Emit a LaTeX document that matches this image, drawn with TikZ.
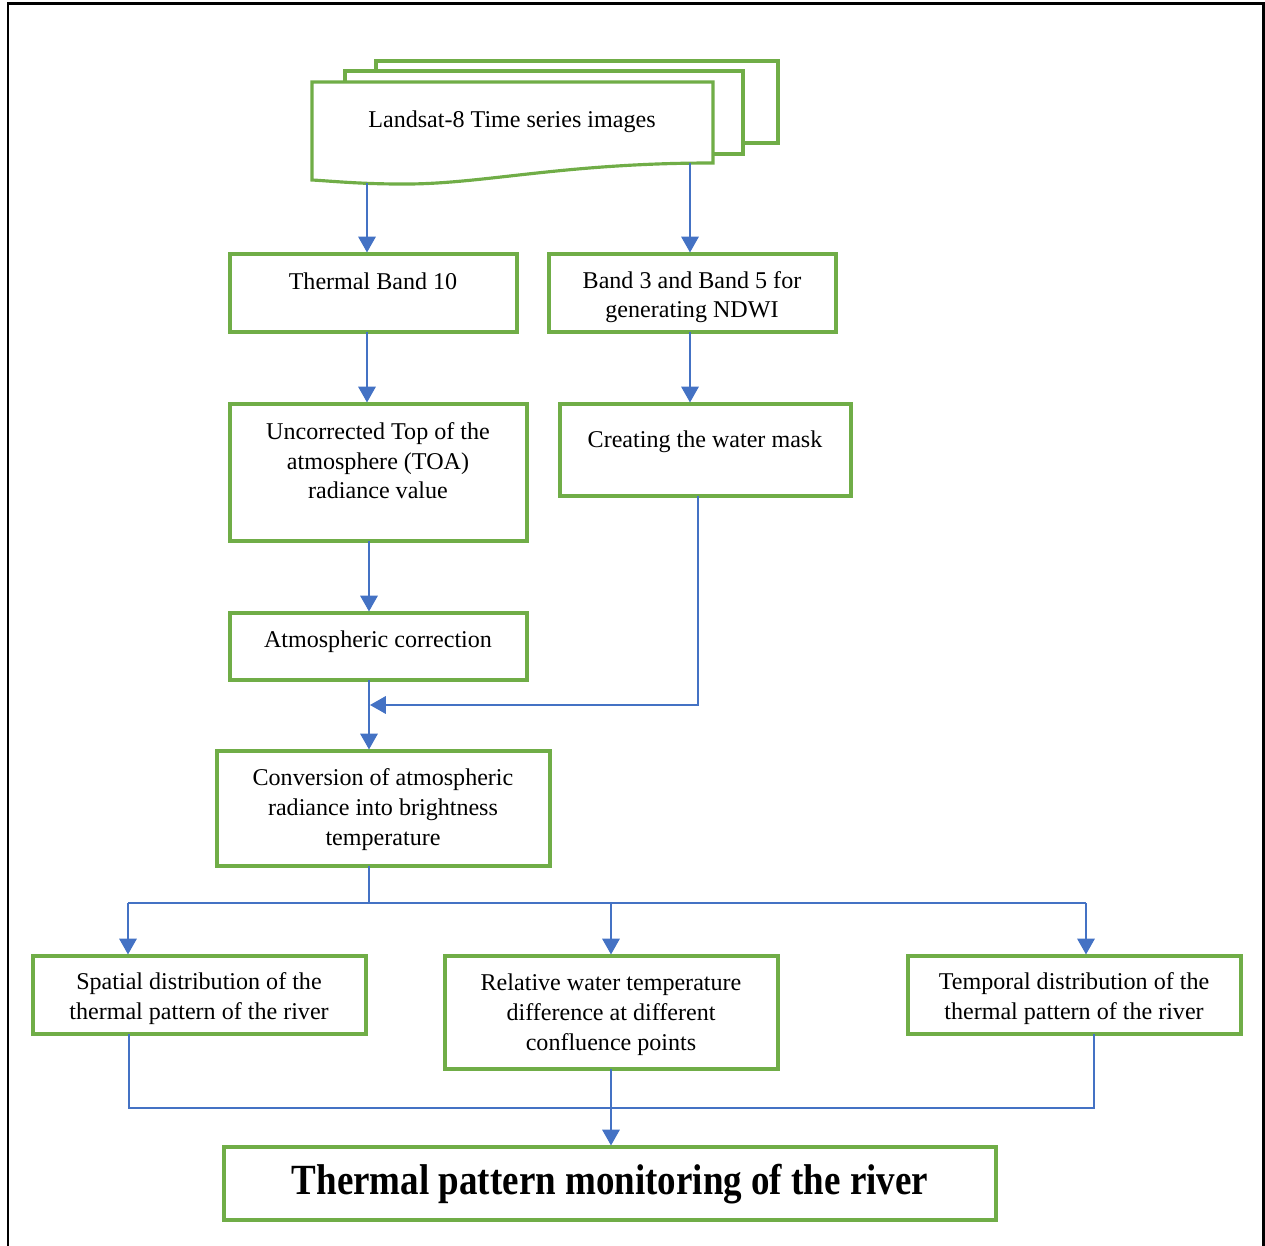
\documentclass[tikz,border=0pt]{standalone}
\usepackage{fontspec}
\setmainfont{Liberation Serif}
\usepackage{graphicx}
\usetikzlibrary{arrows.meta}
\definecolor{gboard}{HTML}{70AD47}
\definecolor{bline}{HTML}{4472C4}
\tikzset{
  box/.style={draw=gboard, line width=1.8pt, fill=white, inner sep=0pt},
  txt/.style={align=center, anchor=base, inner sep=0pt, font=\fontsize{13.7}{16.8}\selectfont},
  conn/.style={draw=bline, line width=0.85pt},
  arr/.style={conn, -{Triangle[length=9pt,width=10pt]}},
}
\begin{document}
\begin{tikzpicture}[x=0.02cm,y=-0.02cm]
\useasboundingbox (0,0) rectangle (1265,1246);
% outer frame
\draw[line width=1.7pt] (8,1246) -- (8,4) -- (1263,4) -- (1263,1246);
% multi-document shape
\draw[box] (376,61) rectangle (778,143);
\draw[box] (345,71) rectangle (743,154);
\draw[box] (312,82) -- (713,82) -- (713,163) .. controls (560,163) and (480,185) .. (400,184)
  .. controls (360,184) and (330,181) .. (312,180) -- cycle;
\node[txt] (landsat) at (512,128) {Landsat-8 Time series images};
\coordinate (d1) at (367,183);
\coordinate (d2) at (690,163);
% boxes
\node[box, minimum width=5.74cm, minimum height=1.56cm] (thermal) at (373.5,293) {};
\node[box, minimum width=5.74cm, minimum height=1.56cm] (band) at (692.5,293) {};
\node[box, minimum width=5.94cm, minimum height=2.74cm] (uncorr) at (378.5,472.5) {};
\node[box, minimum width=5.82cm, minimum height=1.84cm] (water) at (705.5,450) {};
\node[box, minimum width=5.94cm, minimum height=1.34cm] (atm) at (378.5,646.5) {};
\node[box, minimum width=6.66cm, minimum height=2.30cm] (conv) at (383.5,808.5) {};
\node[box, minimum width=6.66cm, minimum height=1.56cm] (spatial) at (199.5,995) {};
\node[box, minimum width=6.66cm, minimum height=2.26cm] (relative) at (611.5,1012.5) {};
\node[box, minimum width=6.66cm, minimum height=1.56cm] (temporal) at (1074.5,995) {};
\node[box, minimum width=15.44cm, minimum height=1.46cm] (final) at (610,1183.5) {};
% texts (anchor = baseline of last line)
\node[txt] (t1) at (373,290) {Thermal Band 10};
\node[txt] (t2) at (692,318) {Band 3 and Band 5 for\\generating NDWI};
\node[txt] (t3) at (378,499) {Uncorrected Top of the\\atmosphere (TOA)\\radiance value};
\node[txt] (t4) at (705,448) {Creating the water mask};
\node[txt] (t5) at (378,648) {Atmospheric correction};
\node[txt] (t6) at (383,845) {Conversion of atmospheric\\radiance into brightness\\temperature};
\node[txt] (t7) at (199,1019) {Spatial distribution of the\\thermal pattern of the river};
\node[txt] (t8) at (611,1050) {Relative water temperature\\difference at different\\confluence points};
\node[txt] (t9) at (1074,1019) {Temporal distribution of the\\thermal pattern of the river};
\node[anchor=base, inner sep=0pt] (t10) at (610,1194) {\scalebox{0.86}[1]{\fontsize{24.5}{28}\selectfont\bfseries Thermal pattern monitoring of the river}};
% connectors
\draw[arr] (d1) -- (d1 |- thermal.north);
\draw[arr] (d2) -- (d2 |- band.north);
\coordinate (c1) at (367,332);
\draw[arr] (c1) -- (c1 |- uncorr.north);
\coordinate (c2) at (690,332);
\draw[arr] (c2) -- (c2 |- water.north);
\coordinate (c3) at (369,541);
\draw[arr] (c3) -- (c3 |- atm.north);
\coordinate (c4) at (369,680);
\draw[arr] (c4) -- (c4 |- conv.north);
\coordinate (w1) at (698,496);
\coordinate (j1) at (370,705);
\draw[arr] (w1) -- (w1 |- j1) -- (j1);
% branching
\coordinate (c5) at (369,866);
\coordinate (h1) at (128,903);
\coordinate (h2) at (1086,903);
\coordinate (h3) at (611,903);
\draw[conn] (c5) -- (369,903);
\draw[conn] (h1) -- (h2);
\draw[arr] (h1) -- (h1 |- spatial.north);
\draw[arr] (h3) -- (h3 |- relative.north);
\draw[arr] (h2) -- (h2 |- temporal.north);
% merging
\coordinate (b1) at (129,1034);
\coordinate (b2) at (1094,1034);
\coordinate (b3) at (611,1069);
\draw[conn] (b1) -- (129,1108) -- (1094,1108) -- (b2);
\draw[arr] (b3) -- (b3 |- final.north);
\end{tikzpicture}
\end{document}
